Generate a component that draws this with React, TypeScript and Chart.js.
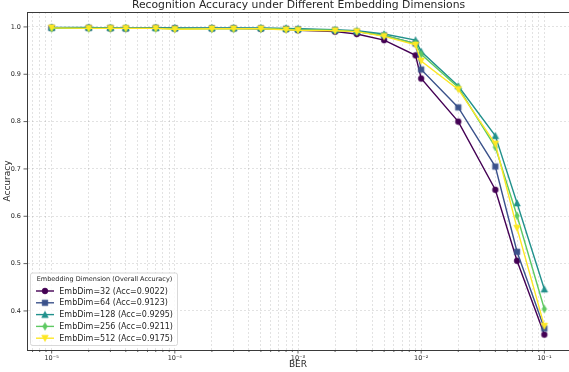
import React, { useEffect, useRef } from 'react';
import Chart from 'chart.js/auto';

// ---------------- data ----------------
const berValues = [1e-5, 2e-5, 3e-5, 4e-5, 7e-5, 1e-4, 2e-4, 3e-4, 5e-4, 8e-4, 1e-3, 2e-3, 3e-3, 5e-3, 9e-3, 1e-2, 2e-2, 4e-2, 6e-2, 1e-1];
const accEmb32 = [0.998, 0.998, 0.997, 0.997, 0.998, 0.997, 0.997, 0.997, 0.996, 0.995, 0.993, 0.990, 0.985, 0.972, 0.940, 0.891, 0.800, 0.656, 0.506, 0.350];
const accEmb64 = [0.998, 0.998, 0.998, 0.997, 0.998, 0.997, 0.997, 0.997, 0.997, 0.996, 0.995, 0.993, 0.990, 0.982, 0.965, 0.910, 0.830, 0.705, 0.525, 0.363];
const accEmb128 = [0.999, 0.999, 0.998, 0.998, 0.998, 0.998, 0.998, 0.998, 0.998, 0.997, 0.996, 0.994, 0.992, 0.985, 0.972, 0.948, 0.875, 0.770, 0.628, 0.446];
const accEmb256 = [0.997, 0.997, 0.997, 0.997, 0.997, 0.996, 0.996, 0.996, 0.996, 0.995, 0.994, 0.993, 0.990, 0.982, 0.965, 0.942, 0.872, 0.746, 0.601, 0.404];
const accEmb512 = [0.998, 0.997, 0.997, 0.997, 0.997, 0.995, 0.996, 0.996, 0.996, 0.994, 0.993, 0.992, 0.990, 0.980, 0.962, 0.928, 0.868, 0.753, 0.575, 0.368];

const seriesLabels = [
  'EmbDim=32 (Acc=0.9022)',
  'EmbDim=64 (Acc=0.9123)',
  'EmbDim=128 (Acc=0.9295)',
  'EmbDim=256 (Acc=0.9211)',
  'EmbDim=512 (Acc=0.9175)',
];
const seriesValues = [accEmb32, accEmb64, accEmb128, accEmb256, accEmb512];
const seriesColors = ['#440154', '#3b528b', '#21918c', '#5ec962', '#fde725'];
const seriesMarkers = ['circle', 'square', 'triangle', 'thinDiamond', 'triangleDown'];

const chartTitle = 'Recognition Accuracy under Different Embedding Dimensions';
const legendTitle = 'Embedding Dimension (Overall Accuracy)';
const xAxisTitle = 'BER';
const yAxisTitle = 'Accuracy';
const yTickValues = [0.4, 0.5, 0.6, 0.7, 0.8, 0.9, 1.0];
const xDecades = [-6, -5, -4, -3, -2, -1, 0];

const FONT = '"DejaVu Sans", sans-serif';
const TEXT = '#262626';
const SPINE = '#3a3a3a';
const GRID = 'rgba(120,120,120,0.3)';

const SUP: Record<string, string> = { '-': '⁻', '0': '⁰', '1': '¹', '2': '²', '3': '³', '4': '⁴', '5': '⁵', '6': '⁶', '7': '⁷', '8': '⁸', '9': '⁹' };
const sup = (n: number) => String(n).split('').map((c) => SUP[c] || c).join('');

function makeMarker(shape: string, color: string): HTMLCanvasElement {
  const s = 10;
  const c = document.createElement('canvas');
  c.width = s;
  c.height = s;
  const g = c.getContext('2d')!;
  const m = s / 2;
  g.fillStyle = color;
  g.strokeStyle = color;
  g.lineWidth = 0.6;
  g.beginPath();
  if (shape === 'circle') {
    g.arc(m, m, 2.9, 0, Math.PI * 2);
  } else if (shape === 'square') {
    g.rect(m - 2.8, m - 2.8, 5.6, 5.6);
  } else if (shape === 'triangle') {
    g.moveTo(m, m - 3.3);
    g.lineTo(m + 3.3, m + 3.0);
    g.lineTo(m - 3.3, m + 3.0);
    g.closePath();
  } else if (shape === 'thinDiamond') {
    g.moveTo(m, m - 3.8);
    g.lineTo(m + 2.3, m);
    g.lineTo(m, m + 3.8);
    g.lineTo(m - 2.3, m);
    g.closePath();
  } else {
    g.moveTo(m, m + 3.3);
    g.lineTo(m + 3.3, m - 3.0);
    g.lineTo(m - 3.3, m - 3.0);
    g.closePath();
  }
  g.fill();
  g.stroke();
  return c;
}

const isPow10 = (v: number) => {
  const l = Math.log10(v);
  return Math.abs(l - Math.round(l)) < 1e-6;
};

export default function App() {
  const ref = useRef<HTMLCanvasElement | null>(null);

  useEffect(() => {
    if (!ref.current) return;
    const markers = seriesMarkers.map((m, i) => makeMarker(m, seriesColors[i]));
    const xMin = Math.pow(10, -5.2);
    const xMax = Math.pow(10, -0.8);

    const decor = {
      id: 'decor',
      afterDraw(chart: any) {
        const { ctx, chartArea: a, scales } = chart;
        ctx.save();
        // top spine
        ctx.strokeStyle = SPINE;
        ctx.lineWidth = 1;
        ctx.beginPath();
        ctx.moveTo(a.left, Math.round(a.top) + 0.5);
        ctx.lineTo(a.right, Math.round(a.top) + 0.5);
        ctx.stroke();
        // tick marks
        ctx.lineWidth = 0.8;
        scales.x.ticks.forEach((t: any) => {
          const px = scales.x.getPixelForValue(t.value);
          const len = isPow10(t.value) ? 3.5 : 2;
          ctx.beginPath();
          ctx.moveTo(px, a.bottom);
          ctx.lineTo(px, a.bottom + len);
          ctx.stroke();
        });
        scales.y.ticks.forEach((t: any) => {
          const py = scales.y.getPixelForValue(t.value);
          ctx.beginPath();
          ctx.moveTo(a.left - 3.5, py);
          ctx.lineTo(a.left, py);
          ctx.stroke();
        });
        // chart title
        ctx.fillStyle = TEXT;
        ctx.font = `10.8px ${FONT}`;
        ctx.textAlign = 'center';
        ctx.textBaseline = 'middle';
        ctx.fillText(chartTitle, 298.5, 5.5);
        // legend
        const bx = 30, by = 272.5, bw = 147, bh = 72.5;
        ctx.beginPath();
        (ctx as any).roundRect(bx + 0.5, by + 0.5, bw, bh, 2);
        ctx.fillStyle = 'rgba(255,255,255,0.8)';
        ctx.fill();
        ctx.strokeStyle = '#cfcfcf';
        ctx.lineWidth = 0.8;
        ctx.stroke();
        ctx.fillStyle = TEXT;
        ctx.font = `6.5px ${FONT}`;
        ctx.textAlign = 'center';
        ctx.fillText(legendTitle, bx + bw / 2 + 1, 279.5);
        ctx.font = `8px ${FONT}`;
        ctx.textAlign = 'left';
        seriesLabels.forEach((lab, i) => {
          const y = 291 + i * 11.8;
          ctx.strokeStyle = seriesColors[i];
          ctx.lineWidth = 1.4;
          ctx.beginPath();
          ctx.moveTo(36, y);
          ctx.lineTo(54, y);
          ctx.stroke();
          const mk = markers[i];
          ctx.drawImage(mk, 45 - mk.width / 2, y - mk.height / 2);
          ctx.fillStyle = TEXT;
          ctx.fillText(lab, 59.3, y + 0.5);
        });
        ctx.restore();
      },
    };

    const chart = new Chart(ref.current, {
      type: 'line',
      data: {
        datasets: seriesValues.map((vals, i) => ({
          label: seriesLabels[i],
          data: berValues.map((x, j) => ({ x, y: vals[j] })),
          borderColor: seriesColors[i],
          backgroundColor: seriesColors[i],
          borderWidth: 1.4,
          pointStyle: markers[i] as any,
          pointRadius: 3.5,
          tension: 0,
          fill: false,
          order: seriesValues.length - 1 - i,
        })),
      },
      options: {
        animation: false,
        responsive: false,
        devicePixelRatio: 1,
        layout: { autoPadding: false, padding: { top: 12, right: 0, left: 0, bottom: 0 } },
        plugins: {
          legend: { display: false },
          tooltip: { enabled: false },
          title: { display: false },
        },
        scales: {
          x: {
            type: 'logarithmic',
            min: xMin,
            max: xMax,
            afterBuildTicks: (scale: any) => {
              const ticks: any[] = [];
              xDecades.forEach((d) => {
                for (let m = 1; m <= 9; m++) {
                  const v = m * Math.pow(10, d);
                  if (v >= xMin && v <= xMax) ticks.push({ value: v, major: m === 1 });
                }
              });
              scale.ticks = ticks;
            },
            afterFit: (scale: any) => {
              scale.height = 22;
              scale.paddingLeft = 0;
              scale.paddingRight = 0;
            },
            ticks: {
              autoSkip: false,
              maxRotation: 0,
              padding: 4,
              color: TEXT,
              font: { family: FONT, size: 6.5 },
              callback: (v: any) => {
                const val = Number(v);
                return isPow10(val) ? '10' + sup(Math.round(Math.log10(val))) : '';
              },
            },
            grid: { color: GRID, lineWidth: 0.7, drawTicks: false },
            border: { display: true, color: SPINE, width: 1, dash: [2, 2] },
            title: {
              display: true,
              text: xAxisTitle,
              color: TEXT,
              font: { family: FONT, size: 9 },
              padding: { top: 0, bottom: 2 },
            },
          },
          y: {
            type: 'linear',
            min: 0.3175,
            max: 1.0315,
            afterBuildTicks: (scale: any) => {
              scale.ticks = yTickValues.map((v) => ({ value: v }));
            },
            afterFit: (scale: any) => {
              scale.width = 27;
              scale.paddingTop = 0;
              scale.paddingBottom = 0;
            },
            ticks: {
              padding: 6,
              color: TEXT,
              font: { family: FONT, size: 6.5 },
              callback: (v: any) => Number(v).toFixed(1),
            },
            grid: { color: GRID, lineWidth: 0.7, drawTicks: false },
            border: { display: true, color: SPINE, width: 1, dash: [2, 2] },
            title: {
              display: true,
              text: yAxisTitle,
              color: TEXT,
              font: { family: FONT, size: 9 },
              padding: { top: 2.5, bottom: 0 },
            },
          },
        },
      },
      plugins: [decor],
    });
    return () => chart.destroy();
  }, []);

  return (
    <div style={{ position: 'fixed', left: 0, top: 0, width: 569, height: 372, background: '#fff' }}>
      <canvas ref={ref} width={569} height={372} style={{ width: 569, height: 372, display: 'block' }} />
    </div>
  );
}
